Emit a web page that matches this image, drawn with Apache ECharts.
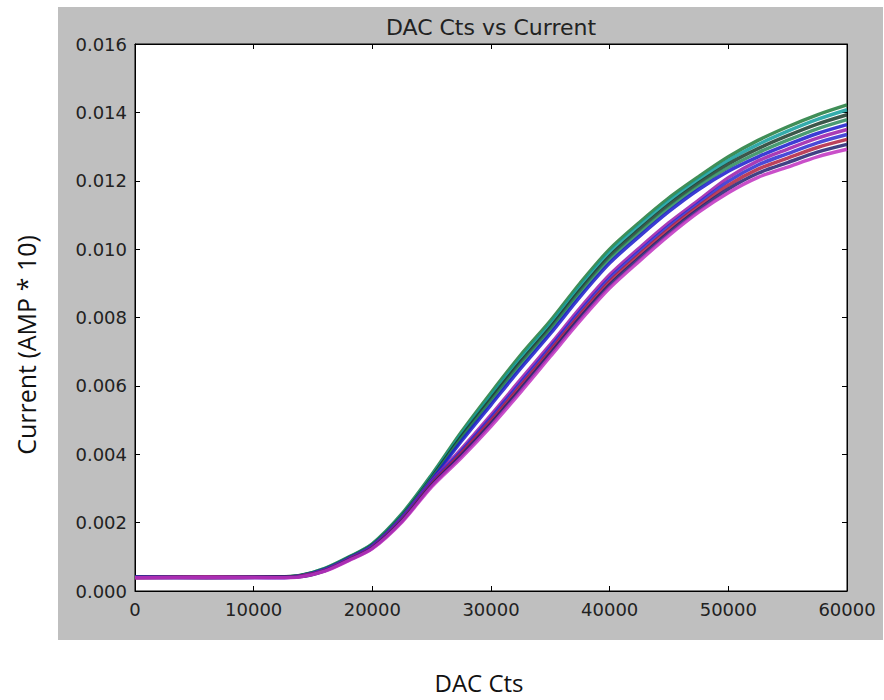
<!DOCTYPE html>
<html>
<head>
<meta charset="utf-8">
<style>
  html, body { margin: 0; padding: 0; background: #ffffff; }
  #chart { width: 884px; height: 700px; }
</style>
<script src="https://cdn.jsdelivr.net/npm/echarts@6/dist/echarts.min.js"></script>
</head>
<body>
<div id="chart"></div>
<script>
// DAC counts (x positions of the sampled points)
const dacCts = [0, 6000, 12000, 14000, 16000, 18000, 20000, 22500, 25000, 27500, 30000, 32500, 35000, 37500, 40000, 42500, 45000, 47500, 50000, 52500, 55000, 57500, 60000];

// Current (AMP * 10), one array per trace
const trace0 = [0.00041, 0.00040, 0.00041, 0.000460, 0.000660, 0.000990, 0.001380, 0.002260, 0.003400, 0.004650, 0.005800, 0.006900, 0.007900, 0.009000, 0.010000, 0.010780, 0.011500, 0.012120, 0.012700, 0.013180, 0.013580, 0.013930, 0.014220];
const trace1 = [0.00040, 0.00041, 0.00040, 0.000456, 0.000651, 0.000979, 0.001364, 0.002233, 0.003361, 0.004583, 0.005712, 0.006803, 0.007806, 0.008901, 0.009897, 0.010678, 0.011401, 0.012026, 0.012595, 0.013060, 0.013449, 0.013793, 0.014076];
const trace2 = [0.00041, 0.00040, 0.00040, 0.000451, 0.000642, 0.000968, 0.001349, 0.002207, 0.003322, 0.004515, 0.005624, 0.006706, 0.007713, 0.008802, 0.009795, 0.010577, 0.011302, 0.011933, 0.012490, 0.012940, 0.013318, 0.013657, 0.013931];
const trace3 = [0.00040, 0.00040, 0.00041, 0.000447, 0.000633, 0.000957, 0.001333, 0.002180, 0.003283, 0.004448, 0.005535, 0.006608, 0.007619, 0.008703, 0.009692, 0.010475, 0.011203, 0.011839, 0.012385, 0.012820, 0.013187, 0.013520, 0.013787];
const trace4 = [0.00039, 0.00040, 0.00040, 0.000442, 0.000624, 0.000946, 0.001318, 0.002153, 0.003244, 0.004380, 0.005447, 0.006511, 0.007526, 0.008604, 0.009590, 0.010373, 0.011104, 0.011746, 0.012280, 0.012700, 0.013056, 0.013383, 0.013642];
const trace5 = [0.00040, 0.00039, 0.00040, 0.000438, 0.000616, 0.000934, 0.001302, 0.002127, 0.003206, 0.004155, 0.005153, 0.006187, 0.007214, 0.008274, 0.009248, 0.010034, 0.010774, 0.011434, 0.012091, 0.012580, 0.012924, 0.013247, 0.013498];
const trace6 = [0.00041, 0.00040, 0.00039, 0.000433, 0.000607, 0.000923, 0.001287, 0.002100, 0.003167, 0.004091, 0.005070, 0.006095, 0.007125, 0.008181, 0.009151, 0.009938, 0.010680, 0.011345, 0.011981, 0.012460, 0.012793, 0.013110, 0.013353];
const trace7 = [0.00039, 0.00041, 0.00040, 0.000429, 0.000598, 0.000912, 0.001271, 0.002073, 0.003128, 0.004028, 0.004987, 0.006004, 0.007037, 0.008087, 0.009054, 0.009842, 0.010587, 0.011257, 0.011871, 0.012340, 0.012662, 0.012973, 0.013209];
const trace8 = [0.00040, 0.00039, 0.00041, 0.000424, 0.000589, 0.000901, 0.001256, 0.002047, 0.003089, 0.003964, 0.004903, 0.005912, 0.006948, 0.007994, 0.008957, 0.009746, 0.010493, 0.011168, 0.011760, 0.012220, 0.012531, 0.012837, 0.013064];
const trace9 = [0.00039, 0.00040, 0.00039, 0.000420, 0.000580, 0.000890, 0.001240, 0.002020, 0.003050, 0.003900, 0.004820, 0.005820, 0.006860, 0.007900, 0.008860, 0.009650, 0.010400, 0.011080, 0.011650, 0.012100, 0.012400, 0.012700, 0.012920];

const traces = [trace0, trace1, trace2, trace3, trace4, trace5, trace6, trace7, trace8, trace9];
const traceColors = ['#1f7a3a', '#119c9c', '#1a3a2a', '#2a8a5a', '#1a1acc', '#9a1aa8', '#2a2ad0', '#b02040', '#202070', '#c030c0'];

const xTicks = { min: 0, max: 60000, interval: 10000 };
const yTicks = { min: 0, max: 0.016, interval: 0.002 };

const titleText = 'DAC Cts vs Current';
const xName = 'DAC Cts';
const yName = 'Current (AMP * 10)';

const chart = echarts.init(document.getElementById('chart'), null, { renderer: 'svg' });

const tickFont = { fontSize: 18, color: '#222', fontFamily: 'DejaVu Sans' };

function xAxisDef(pos, labels) {
  return {
    type: 'value', position: pos, min: xTicks.min, max: xTicks.max, interval: xTicks.interval,
    axisLine: { show: true, onZero: false, lineStyle: { color: '#000', width: 1 } },
    axisTick: { show: true, inside: true, length: 5, lineStyle: { color: '#000' } },
    axisLabel: Object.assign({ show: labels, margin: 9, formatter: v => String(v) }, tickFont),
    splitLine: { show: false }
  };
}
function yAxisDef(pos, labels) {
  return {
    type: 'value', position: pos, min: yTicks.min, max: yTicks.max, interval: yTicks.interval,
    axisLine: { show: true, onZero: false, lineStyle: { color: '#000', width: 1 } },
    axisTick: { show: true, inside: true, length: 5, lineStyle: { color: '#000' } },
    axisLabel: Object.assign({ show: labels, margin: 8, formatter: v => v.toFixed(3) }, tickFont),
    splitLine: { show: false }
  };
}

const option = {
  backgroundColor: '#ffffff',
  animation: false,
  graphic: [
    { type: 'rect', z: -100, silent: true, shape: { x: 58, y: 7, width: 825, height: 633 }, style: { fill: '#bfbfbf' } },
    { type: 'text', z: 100, x: 491, y: 27, style: { text: titleText, fontSize: 22, fontFamily: 'DejaVu Sans', fill: '#222', textAlign: 'center', textVerticalAlign: 'middle' } },
    { type: 'text', z: 100, x: 479, y: 682, style: { text: xName, fontSize: 24, fontFamily: 'Open Sans', fill: '#111', textAlign: 'center', textVerticalAlign: 'middle' } },
    { type: 'text', z: 100, x: 26, y: 345, rotation: Math.PI / 2, style: { text: yName, fontSize: 25, fontFamily: 'Open Sans', fill: '#111', textAlign: 'center', textVerticalAlign: 'middle' } }
  ],
  grid: { left: 135, top: 44, right: 37, bottom: 109, show: true, backgroundColor: '#ffffff', borderColor: '#000', borderWidth: 1 },
  xAxis: [xAxisDef('bottom', true), xAxisDef('top', false)],
  yAxis: [yAxisDef('left', true), yAxisDef('right', false)],
  series: traces.map((t, k) => ({
    type: 'line',
    xAxisIndex: 0,
    yAxisIndex: 0,
    data: dacCts.map((x, i) => [x, t[i]]),
    smooth: 0.3,
    showSymbol: false,
    lineStyle: { color: traceColors[k], width: 3.5, opacity: 0.85 },
    itemStyle: { color: traceColors[k] }
  }))
};

chart.setOption(option);
</script>
</body>
</html>
